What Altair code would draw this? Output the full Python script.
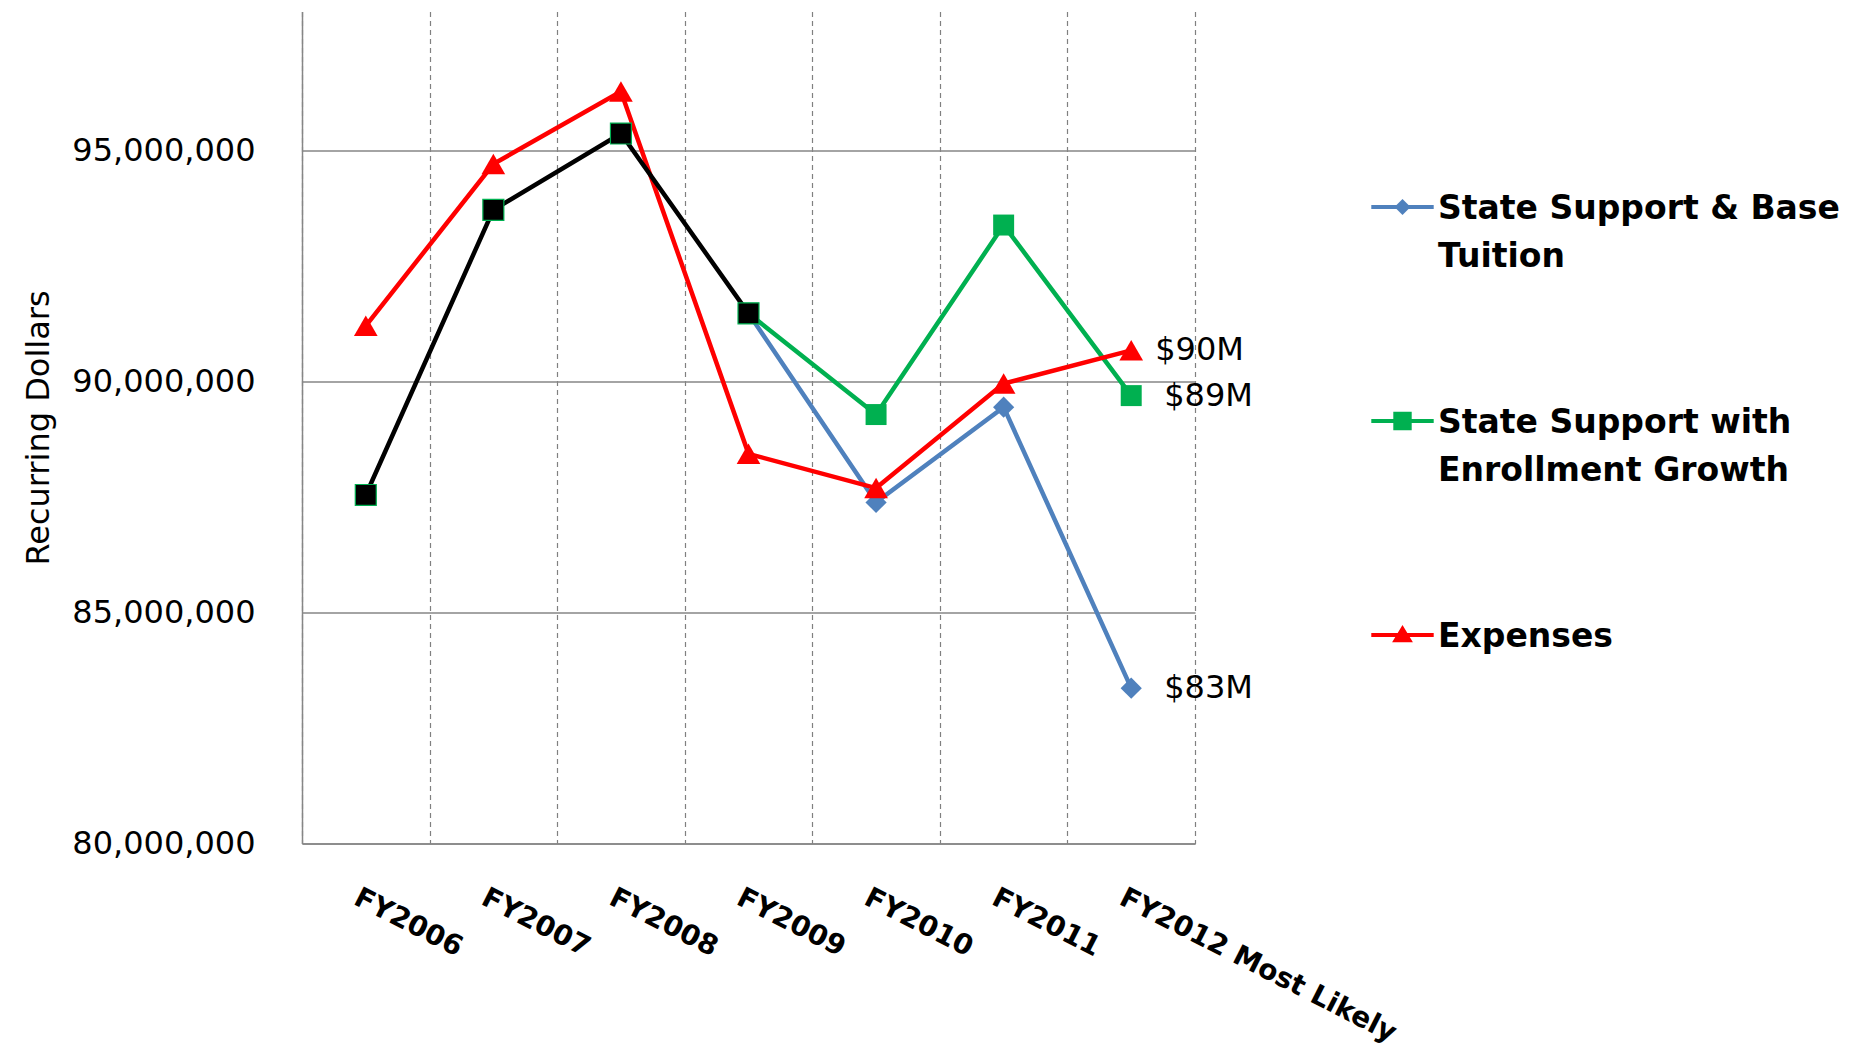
import json
import altair as alt
import pandas as pd

# ---------------- data ----------------
YEARS = ["FY2006", "FY2007", "FY2008", "FY2009", "FY2010", "FY2011", "FY2012 Most Likely"]
HIST_YEARS = ["FY2006", "FY2007", "FY2008", "FY2009"]
HIST_VALUES = [87_540_000, 93_710_000, 95_360_000, 91_470_000]
PROJ_YEARS = ["FY2009", "FY2010", "FY2011", "FY2012 Most Likely"]
BASE_TUITION = [91_470_000, 87_380_000, 89_440_000, 83_360_000]
ENROLLMENT = [91_470_000, 89_280_000, 93_380_000, 89_690_000]
EXPENSES = [91_200_000, 94_700_000, 96_270_000, 88_430_000, 87_690_000, 89_950_000, 90_670_000]

SERIES = ["State Support & Base Tuition", "State Support with Enrollment Growth", "Expenses"]
SERIES_LINES = [["State Support & Base", "Tuition"], ["State Support with", "Enrollment Growth"], ["Expenses"]]
END_LABELS = ["$83M", "$89M", "$90M"]
Y_TICKS = [80_000_000, 85_000_000, 90_000_000, 95_000_000]
Y_DOMAIN = [80_000_000, 98_000_000]

# ---------------- style ----------------
COLORS = ["#4F81BD", "#00B050", "#FF0000"]
MARKERS = ["diamond", "square", "triangle-up"]
MARKER_SIZES = [450, 440, 560]
LABEL_DX = [33, 33, 24]
LEGEND_PATHS = [
    "M-3.9,1.5H3.9V2H-3.9Z M0,0.75L1,1.75L0,2.75L-1,1.75Z",
    "M-3.9,1.5H3.9V2H-3.9Z M-1.15,0.6H1.15V2.9H-1.15Z",
    "M-3.9,1.5H3.9V2H-3.9Z M0,0.5L1.3,2.65H-1.3Z",
]
FONT = "DejaVu Sans"
W, H = 893, 832

series_values = [BASE_TUITION, ENROLLMENT, EXPENSES]
series_years = [PROJ_YEARS, PROJ_YEARS, YEARS]

label_expr = "datum.label"
for name, lines in zip(SERIES, SERIES_LINES):
    label_expr = f"datum.label === {json.dumps(name)} ? {json.dumps(lines)} : ({label_expr})"

x_enc = alt.X(
    "year:N",
    sort=YEARS,
    scale=alt.Scale(type="band", domain=YEARS, paddingInner=0, paddingOuter=0),
    axis=alt.Axis(
        title=None, tickBand="extent", ticks=False, grid=True,
        gridColor="#808080", gridDash=[5, 4], gridWidth=1.2,
        domainColor="#868686", domainWidth=1.5,
        labelFont=FONT, labelFontSize=28, labelFontWeight="bold", labelColor="#000000",
        labelAngle=27, labelAlign="left", labelBaseline="top", labelPadding=40,
        labelOffset=-4, labelLimit=1000, labelOverlap=False, labelBound=False,
    ),
)
y_enc = alt.Y(
    "value:Q",
    scale=alt.Scale(domain=Y_DOMAIN, nice=False, zero=False),
    axis=alt.Axis(
        values=Y_TICKS, format=",d", title="Recurring Dollars",
        titleFont=FONT, titleFontSize=32, titleFontWeight="normal", titleColor="#000000",
        titlePadding=47, labelFont=FONT, labelFontSize=32, labelColor="#000000",
        labelPadding=47, labelLimit=1000, ticks=False, domainColor="#868686", domainWidth=1.5,
        grid=True, gridColor="#868686", gridWidth=1.5,
    ),
)

layers = []
for i, name in enumerate(SERIES):
    d = pd.DataFrame({"year": series_years[i], "value": series_values[i], "series": name})
    c = alt.Chart(d)
    layers.append(c.mark_line(color=COLORS[i], strokeWidth=4.5).encode(x=x_enc, y=y_enc))
    layers.append(
        c.mark_point(shape=MARKERS[i], filled=True, color=COLORS[i], size=MARKER_SIZES[i], opacity=1)
        .encode(x=x_enc, y=y_enc)
    )
    lab = pd.DataFrame({"year": [series_years[i][-1]], "value": [series_values[i][-1]], "label": [END_LABELS[i]]})
    layers.append(
        alt.Chart(lab)
        .mark_text(align="left", baseline="middle", dx=LABEL_DX[i], font=FONT, fontSize=32, color="#000000")
        .encode(x=x_enc, y=y_enc, text="label:N")
    )

hist = pd.DataFrame({"year": HIST_YEARS, "value": HIST_VALUES})
hc = alt.Chart(hist)
layers.append(hc.mark_line(color="#000000", strokeWidth=4.5).encode(x=x_enc, y=y_enc))
layers.append(
    hc.mark_point(shape="square", filled=True, fill="#000000", stroke="#00B050", strokeWidth=1.2,
                  size=440, opacity=1).encode(x=x_enc, y=y_enc)
)

legend_props = dict(
    title=None, orient="none", legendX=1084, legendY=165, padding=0, symbolOffset=0,
    symbolSize=256, symbolStrokeWidth=0, symbolOpacity=1,
    labelFont=FONT, labelFontSize=33, labelFontWeight="bold", labelColor="#000000",
    labelBaseline="top", labelOffset=19, labelLimit=1000, labelExpr=label_expr, rowPadding=116,
)
leg_df = pd.DataFrame({"series": SERIES})
layers.append(
    alt.Chart(leg_df).transform_filter("false").mark_point(filled=True, opacity=1).encode(
        color=alt.Color("series:N", scale=alt.Scale(domain=SERIES, range=COLORS), legend=alt.Legend(**legend_props)),
        shape=alt.Shape("series:N", scale=alt.Scale(domain=SERIES, range=LEGEND_PATHS), legend=alt.Legend(**legend_props)),
    )
)

chart = (
    alt.layer(*layers)
    .properties(
        width=W, height=H,
        autosize=alt.AutoSizeParams(type="none"),
        padding={"left": 294, "top": 3.5, "right": 654, "bottom": 206},
    )
    .configure(style={"guide-label": {"lineHeight": 48}})
    .configure_view(stroke="transparent")
)

chart.save("out.html", embed_options={"renderer": "svg", "actions": False})
